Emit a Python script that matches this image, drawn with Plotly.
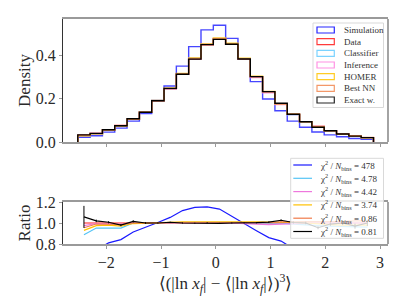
import numpy as np
import plotly.graph_objects as go

# ---------------- data ----------------
bin_edges = [-2.52, -2.295, -2.07, -1.845, -1.62, -1.395, -1.17, -0.945, -0.72, -0.495,
             -0.27, -0.045, 0.18, 0.405, 0.63, 0.855, 1.08, 1.305, 1.53, 1.755,
             1.98, 2.205, 2.43, 2.655, 2.88]

data_hist = [0.031, 0.039, 0.056, 0.076, 0.105, 0.137, 0.190, 0.245, 0.312, 0.382,
             0.447, 0.474, 0.450, 0.382, 0.300, 0.230, 0.174, 0.127, 0.093, 0.071,
             0.052, 0.037, 0.028, 0.020]

sim_hist = [0.022, 0.029, 0.0454, 0.064, 0.096, 0.131, 0.191, 0.258, 0.349, 0.439,
            0.516, 0.537, 0.477, 0.380, 0.278, 0.198, 0.144, 0.096, 0.068, 0.046,
            0.033, 0.024, 0.016, 0.012]

ratio_classifier = [0.888, 0.952, 0.952, 0.952, 1.0, 1.0, 1.0, 1.0, 1.0, 1.005,
                    1.005, 1.0, 1.0, 1.0, 1.0, 1.0, 1.0, 0.99, 0.98, 0.975,
                    0.97, 0.965, 0.962, 0.96]
ratio_inference = [0.975, 0.995, 0.995, 0.99, 1.0, 1.0, 1.0, 1.0, 1.0, 1.0,
                   1.005, 1.005, 1.0, 0.995, 0.99, 0.985, 0.99, 0.995, 1.0, 1.0,
                   1.0, 1.0, 1.0, 1.0]
ratio_homer = [0.93, 0.975, 0.98, 0.97, 0.995, 1.0, 1.005, 1.01, 1.01, 1.012,
               1.01, 1.01, 1.01, 1.01, 1.01, 1.01, 1.01, 1.005, 1.0, 0.99,
               0.985, 0.98, 0.98, 0.98]
ratio_bestnn = [0.955, 0.99, 0.99, 0.985, 1.0, 1.0, 1.0, 1.005, 1.005, 1.005,
                1.005, 1.0, 1.0, 1.0, 1.0, 1.005, 1.01, 1.01, 1.01, 1.01,
                1.01, 1.015, 1.02, 1.02]
ratio_exact = [1.058, 1.02, 1.007, 0.98, 1.016, 1.0, 1.0, 1.007, 1.0, 0.998,
               1.002, 0.996, 1.0, 1.0, 1.003, 1.008, 1.026, 1.005, 1.0, 0.955,
               0.99, 1.0, 0.97, 1.0]
err_exact = [0.105, 0.012, 0.01, 0.01, 0.01, 0.008, 0.006, 0.005, 0.005, 0.005,
             0.005, 0.005, 0.005, 0.005, 0.006, 0.007, 0.008, 0.01, 0.012, 0.014,
             0.016, 0.02, 0.024, 0.03]

hist_labels = ["Simulation", "Data", "Classifier", "Inference", "HOMER", "Best NN", "Exact w."]
hist_colors = ["#0000ff", "#ff1a1a", "#66ccff", "#ff80e0", "#ffc400", "#f2874f", "#000000"]
hist_opac = [0.72, 0.85, 0.8, 0.8, 0.8, 0.8, 1.0]

ratio_labels = ["Simulation", "Classifier", "Inference", "HOMER", "Best NN", "Exact w."]
chi2_values = ["478", "4.78", "4.42", "3.74", "0.86", "0.81"]
ratio_colors = ["#1a1aff", "#55c4f5", "#ee77dd", "#ffc000", "#f07b4a", "#000000"]

x_ticks = [-2, -1, 0, 1, 2, 3]
y_ticks_top = [0.0, 0.2, 0.4]
y_ticks_bot = [0.8, 1.0, 1.2]

# ---------------- derived ----------------
edges = np.array(bin_edges)
centers = 0.5 * (edges[:-1] + edges[1:])
data = np.array(data_hist)
model_ratios = {
    "Classifier": np.array(ratio_classifier),
    "Inference": np.array(ratio_inference),
    "HOMER": np.array(ratio_homer),
    "Best NN": np.array(ratio_bestnn),
    "Exact w.": np.array(ratio_exact),
}
hists = {"Simulation": np.array(sim_hist), "Data": data}
for k, r in model_ratios.items():
    hists[k] = data * r
ratios = {"Simulation": np.array(sim_hist) / data}
ratios.update(model_ratios)

FONT = "Liberation Serif"
OFF = 8                     # default page body margin
W, H = 407 - OFF, 305 - OFF
# page-pixel layout targets
P_LEFT, P_RIGHT, P_TOP, P_BOTTOM = 63, 388, 19, 244
ML, MT = P_LEFT - OFF, P_TOP - OFF
MR, MB = 407 - P_RIGHT, 305 - P_BOTTOM
PW, PH = W - ML - MR, H - MT - MB


def px(x):
    return (x - P_LEFT) / PW


def py(y):
    return (P_BOTTOM - y) / PH


fig = go.Figure()

# step histograms
for lab, col, op in zip(hist_labels, hist_colors, hist_opac):
    h = hists[lab]
    xs = [edges[0]] + list(edges)
    ys = [0.0] + list(h) + [0.0]
    fig.add_trace(go.Scatter(x=xs, y=ys, mode="lines", line=dict(color=col, width=1.4, shape="hv"),
                             opacity=op, showlegend=False, xaxis="x", yaxis="y", name=lab))

# data (reference) line in ratio panel
fig.add_trace(go.Scatter(x=centers, y=data / data, mode="lines", line=dict(color="#ff1a1a", width=1.2),
                         showlegend=False, xaxis="x2", yaxis="y2", name="Data"))

# ratio lines
for lab, col in zip(ratio_labels, ratio_colors):
    kw = {}
    if lab == "Exact w.":
        kw["error_y"] = dict(type="data", array=err_exact, color=col, thickness=1, width=0)
    fig.add_trace(go.Scatter(x=centers, y=ratios[lab], mode="lines",
                             line=dict(color=col, width=1.2), showlegend=False,
                             xaxis="x2", yaxis="y2", name=lab, **kw))

grey = "#9a9a9a"
txtcol = "#2a2a2a"
tickfont = dict(family=FONT, size=16, color=txtcol)
axis_common = dict(showgrid=False, zeroline=False, ticks="outside", ticklen=3, tickcolor=grey,
                   tickwidth=1, showline=True, linecolor=grey, linewidth=1.8, mirror=True,
                   tickfont=tickfont, automargin=False)
yaxis_common = dict(showgrid=False, zeroline=False, ticks="outside", ticklen=3, tickcolor=grey,
                    showline=True, linecolor="#333", linewidth=1, tickfont=tickfont, automargin=False)

xr = [-2.79, 3.145]
fig.update_layout(
    width=W, height=H, margin=dict(l=ML, r=MR, t=MT, b=MB, autoexpand=False),
    paper_bgcolor="white", plot_bgcolor="white",
    xaxis=dict(domain=[0, 1], range=xr, anchor="y", tickvals=x_ticks, showticklabels=False,
               **axis_common),
    yaxis=dict(domain=[py(142), 1], range=[0, 0.566], anchor="x", tickvals=y_ticks_top,
               ticktext=["0.0", "0.2", "0.4"],
               title=dict(text="Density", font=dict(family=FONT, size=17, color=txtcol), standoff=0),
               **yaxis_common),
    xaxis2=dict(domain=[0, 1], range=xr, anchor="y2", tickvals=x_ticks,
                ticktext=["\u22122", "\u22121", "0", "1", "2", "3"],
                title=dict(text="\u27e8(|ln <i>x<sub>f</sub></i>| \u2212 \u27e8|ln <i>x<sub>f</sub></i>|\u27e9)<sup>3</sup>\u27e9",
                           font=dict(family=FONT, size=17, color=txtcol), standoff=0),
                **axis_common),
    yaxis2=dict(domain=[0, py(202)], range=[0.8, 1.2], anchor="x2", tickvals=y_ticks_bot,
                ticktext=["0.8", "1.0", "1.2"],
                title=dict(text="Ratio", font=dict(family=FONT, size=17, color=txtcol), standoff=0),
                **yaxis_common),
)

shapes = []
# right spines grey
for yref in ["y domain", "y2 domain"]:
    xref = "x domain" if yref == "y domain" else "x2 domain"
    shapes.append(dict(type="line", xref=xref, yref=yref, x0=1, x1=1, y0=0, y1=1,
                       line=dict(color=grey, width=1.8), layer="above"))

annotations = []
# top legend
shapes.append(dict(type="rect", xref="paper", yref="paper", x0=px(313), x1=px(383.5), y0=py(23), y1=py(107.5),
                   fillcolor="rgba(255,255,255,0.8)", line=dict(color="#d9d9d9", width=1), layer="above"))
row_y_top = [30, 41.7, 53.3, 65, 76.7, 88.3, 100]
for lab, col, yy in zip(hist_labels, hist_colors, row_y_top):
    shapes.append(dict(type="rect", xref="paper", yref="paper", x0=px(317), x1=px(334.3),
                       y0=py(yy + 3), y1=py(yy - 3), fillcolor="white",
                       line=dict(color=col, width=1.2), layer="above", opacity=0.85))
    annotations.append(dict(text=lab, xref="paper", yref="paper", x=px(341.5), y=py(yy),
                            xanchor="left", yanchor="middle", showarrow=False,
                            font=dict(family=FONT, size=9, color="#333")))

# bottom legend
shapes.append(dict(type="rect", xref="paper", yref="paper", x0=px(290.7), x1=px(383.5), y0=py(158.3), y1=py(238.3),
                   fillcolor="rgba(255,255,255,0.8)", line=dict(color="#d9d9d9", width=1), layer="above"))
row_y_bot = [165, 178.3, 191.6, 204.9, 218.2, 231.5]
for chi, col, yy in zip(chi2_values, ratio_colors, row_y_bot):
    shapes.append(dict(type="line", xref="paper", yref="paper", x0=px(293.3), x1=px(312),
                       y0=py(yy), y1=py(yy), line=dict(color=col, width=1.2), layer="above"))
    annotations.append(dict(text="\u03c7<sup>2</sup> / <i>N</i><sub>bins</sub> = " + chi,
                            xref="paper", yref="paper", x=px(318), y=py(yy),
                            xanchor="left", yanchor="middle", showarrow=False,
                            font=dict(family=FONT, size=9, color="#333")))

fig.update_layout(shapes=shapes, annotations=annotations)
fig.write_html("out.html")
